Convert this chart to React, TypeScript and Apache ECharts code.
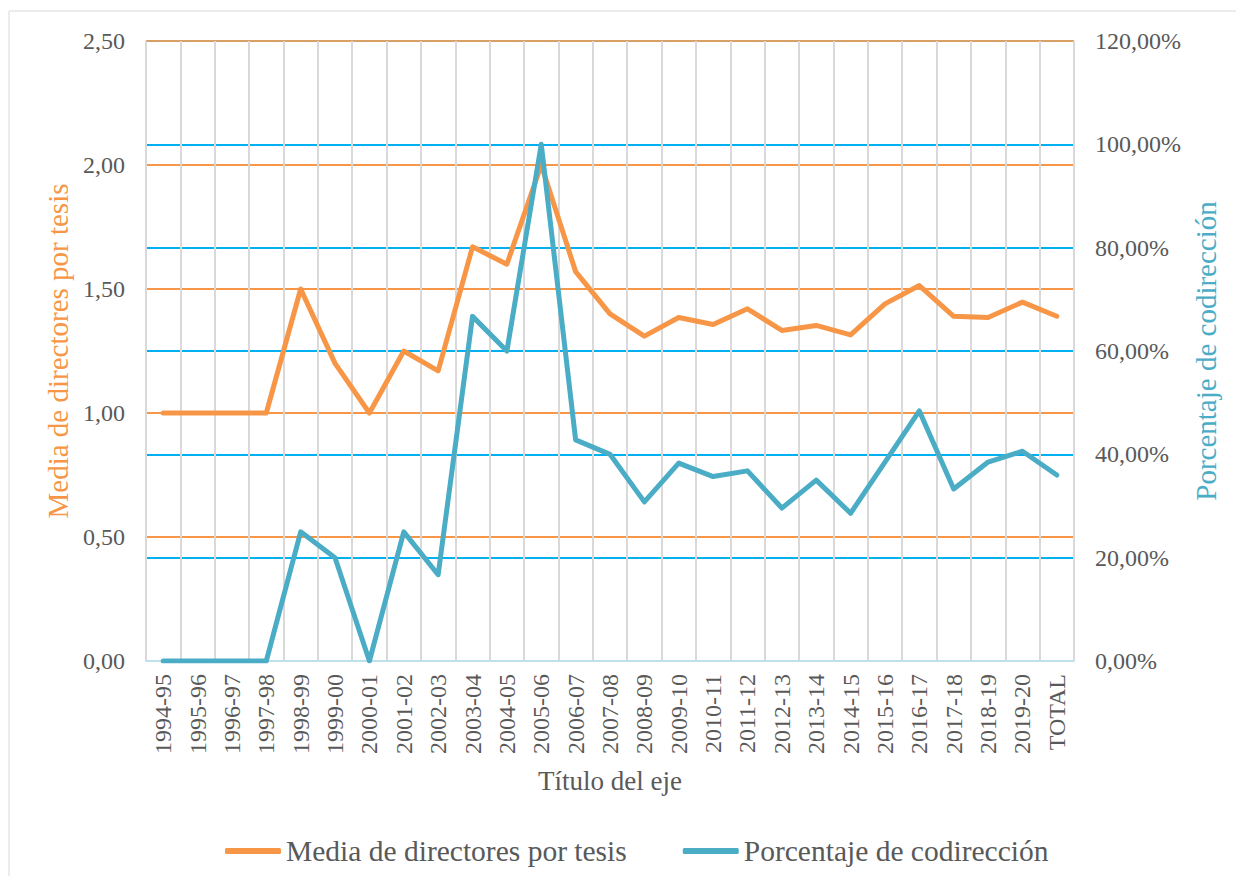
import React, { useEffect, useRef } from "react";
import * as echarts from "echarts";

const categories = [
  "1994-95", "1995-96", "1996-97", "1997-98", "1998-99", "1999-00", "2000-01",
  "2001-02", "2002-03", "2003-04", "2004-05", "2005-06", "2006-07", "2007-08",
  "2008-09", "2009-10", "2010-11", "2011-12", "2012-13", "2013-14", "2014-15",
  "2015-16", "2016-17", "2017-18", "2018-19", "2019-20", "TOTAL",
];

const mediaDirectores = [
  1.0, 1.0, 1.0, 1.0, 1.5, 1.2, 1.0, 1.25, 1.17, 1.67, 1.6, 2.0, 1.57, 1.4,
  1.31, 1.385, 1.357, 1.42, 1.333, 1.353, 1.315, 1.44, 1.514, 1.39, 1.385, 1.447, 1.39,
];

const porcentajeCodireccion = [
  0, 0, 0, 0, 0.25, 0.2, 0, 0.25, 0.167, 0.667, 0.6, 1.0, 0.428, 0.4,
  0.308, 0.383, 0.357, 0.368, 0.296, 0.35, 0.286, 0.385, 0.484, 0.333, 0.385, 0.406, 0.36,
];

const FONT = "Liberation Serif";
const ORANGE = "#F79646";
const BLUE = "#4BACC6";
const TEXT = "#595959";

export default function App() {
  const ref = useRef<HTMLDivElement>(null);
  useEffect(() => {
    if (!ref.current) return;
    const chart = echarts.init(ref.current, undefined, { renderer: "svg" });
    chart.setOption({
      animation: false,
      backgroundColor: "#fff",
      textStyle: { fontFamily: FONT },
      graphic: [
        {
          type: "rect",
          shape: { x: 1, y: 3, width: 1400, height: 1100 },
          style: { fill: "none", stroke: "#D9D9D9", lineWidth: 1 },
          silent: true,
          z: -10,
        },
      ],
      grid: { left: 138, right: 162, top: 33, bottom: 215, containLabel: false },
      legend: {
        top: 823,
        left: 212,
        icon: "roundRect",
        itemWidth: 56,
        itemHeight: 6,
        itemGap: 56,
        textStyle: { fontFamily: FONT, fontSize: 29.5, color: TEXT },
        data: ["Media de directores por tesis", "Porcentaje de codirección"],
      },
      xAxis: {
        type: "category",
        data: categories,
        boundaryGap: true,
        name: "Título del eje",
        nameLocation: "middle",
        nameGap: 106,
        nameTextStyle: { fontFamily: FONT, fontSize: 27, color: TEXT },
        axisLine: { show: true, lineStyle: { color: "#BFE0EA", width: 2 } },
        axisTick: { show: false },
        axisLabel: { rotate: 90, fontFamily: FONT, fontSize: 24, color: TEXT, margin: 13, interval: 0 },
        splitLine: { show: true, interval: 0, lineStyle: { color: "#D9D9D9", width: 2 } },
      },
      yAxis: [
        {
          type: "value",
          min: 0,
          max: 2.5,
          interval: 0.5,
          position: "left",
          name: "Media de directores por tesis",
          nameLocation: "middle",
          nameRotate: 90,
          nameGap: 71,
          nameTextStyle: { fontFamily: FONT, fontSize: 29, color: ORANGE },
          axisLine: { show: false },
          axisTick: { show: false },
          axisLabel: {
            fontFamily: FONT, fontSize: 24, color: TEXT, margin: 21,
            formatter: (v: number) => v.toFixed(2).replace(".", ","),
          },
          splitLine: {
            show: true,
            lineStyle: {
              color: ["transparent", ORANGE, ORANGE, ORANGE, ORANGE, "#D9A066"],
              width: 2,
            },
          },
        },
        {
          type: "value",
          min: 0,
          max: 1.2,
          interval: 0.2,
          position: "right",
          name: "Porcentaje de codirección",
          nameLocation: "middle",
          nameRotate: 90,
          nameGap: 116,
          nameTextStyle: { fontFamily: FONT, fontSize: 29, color: BLUE },
          axisLine: { show: false },
          axisTick: { show: false },
          axisLabel: {
            fontFamily: FONT, fontSize: 24, color: TEXT, margin: 21,
            formatter: (v: number) => (v * 100).toFixed(2).replace(".", ",") + "%",
          },
          splitLine: {
            show: true,
            lineStyle: {
              color: ["transparent", "#00B0F0", "#00B0F0", "#00B0F0", "#00B0F0", "#00B0F0", "transparent"],
              width: 2,
            },
          },
        },
      ],
      series: [
        {
          name: "Media de directores por tesis",
          type: "line",
          yAxisIndex: 0,
          data: mediaDirectores,
          symbol: "none",
          lineStyle: { color: ORANGE, width: 5, cap: "round", join: "round" },
          itemStyle: { color: ORANGE },
          z: 3,
        },
        {
          name: "Porcentaje de codirección",
          type: "line",
          yAxisIndex: 1,
          data: porcentajeCodireccion,
          symbol: "none",
          lineStyle: { color: BLUE, width: 5, cap: "round", join: "round" },
          itemStyle: { color: BLUE },
          z: 4,
        },
      ],
    });
    return () => chart.dispose();
  }, []);
  return <div ref={ref} style={{ width: 1228, height: 868 }} />;
}
